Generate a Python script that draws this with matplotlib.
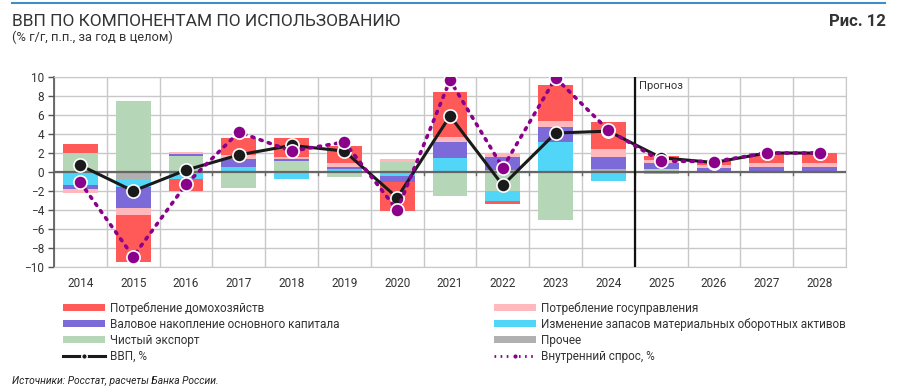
import matplotlib
matplotlib.use('Agg')
import matplotlib.pyplot as plt
from matplotlib.lines import Line2D
from matplotlib.patches import Patch
import numpy as np

plt.rcParams['font.family'] = ['Roboto', 'DejaVu Sans']

years = ['2014', '2015', '2016', '2017', '2018', '2019', '2020', '2021',
         '2022', '2023', '2024', '2025', '2026', '2027', '2028']

# contributions, p.p.
other = [0, -0.75, 0, 0, 0, 0, -0.25, 0, 0.2, 0, 0.3, 0.15, 0.05, 0.1, 0.1]
net_export = [1.95, 7.45, 1.7, -1.7, 1.2, -0.55, 1.05, -2.5, -1.95, -5.1, 0, 0.2, 0, 0, 0]
inventories = [-1.4, -0.85, -0.7, 0.5, -0.75, 0.35, -0.15, 1.45, -1.15, 3.15, -0.9, -0.25, 0, 0, 0]
investment = [-0.4, -2.2, 0.2, 0.85, 0.15, 0.15, -0.7, 1.7, 1.4, 1.55, 1.25, 0.6, 0.4, 0.4, 0.46]
government = [-0.45, -0.75, 0.25, 0.45, 0.2, 0.4, 0.3, 0.5, 0.35, 0.7, 0.9, 0.28, 0.25, 0.45, 0.35]
households = [1.05, -4.9, -1.35, 1.8, 2.0, 1.8, -3.0, 4.8, -0.3, 3.8, 2.8, 0.5, 0.45, 1.05, 1.1]

gdp = [0.7, -2.0, 0.2, 1.8, 2.8, 2.2, -2.7, 5.9, -1.4, 4.1, 4.3, 1.5, 1.0, 2.0, 2.0]
domestic_demand = [-1.1, -8.9, -1.3, 4.2, 2.2, 3.15, -4.0, 9.65, 0.45, 9.9, 4.4, 1.15, 1.1, 2.0, 2.0]

series = [
    (other, '#b0b0b0', 'Прочее'),
    (net_export, '#b5d6b7', 'Чистый экспорт'),
    (inventories, '#52d6f7', 'Изменение запасов материальных оборотных активов'),
    (investment, '#7b6ad8', 'Валовое накопление основного капитала'),
    (government, '#ffb8bc', 'Потребление госуправления'),
    (households, '#ff5a58', 'Потребление домохозяйств'),
]

fig = plt.figure(figsize=(9, 3.91), dpi=100)
ax = fig.add_axes([54 / 900, 1 - 267 / 391, (846 - 54) / 900, 190 / 391])

x = np.arange(len(years))
pos_base = np.zeros(len(years))
neg_base = np.zeros(len(years))
colors = {}
for vals, color, label in series:
    v = np.array(vals, dtype=float)
    bottom = np.where(v >= 0, pos_base, neg_base)
    ax.bar(x, v, bottom=bottom, width=0.66, color=color, zorder=2)
    colors[label] = color
    pos_base += np.where(v >= 0, v, 0)
    neg_base += np.where(v < 0, v, 0)

ax.plot(x, gdp, color='#1a1a1a', lw=2.2, marker='o', ms=9.5,
        mfc='#1a1a1a', mec='white', mew=1.2, zorder=4)
ax.plot(x, domestic_demand, color='#8b008b', lw=2.6, ls=(0, (0.6, 1.8)),
        dash_capstyle='round', marker='o', ms=9.5, mfc='#8b008b',
        mec='white', mew=1.2, zorder=5)

ax.set_xlim(-0.5, len(years) - 0.5)
ax.set_ylim(-10, 10)
ax.set_yticks(range(-10, 11, 2))
ax.set_xticks(x)
ax.set_xticklabels(years)
ax.set_xticks(np.arange(-0.5, len(years), 1), minor=True)
ax.tick_params(axis='x', which='major', length=0, pad=7, labelsize=8.5, colors='#333333')
ax.tick_params(axis='x', which='minor', length=0)
ax.tick_params(axis='y', length=4, width=1, color='#555555', labelsize=8.5,
               labelcolor='#333333', pad=3)
ax.grid(True, which='minor', axis='x', color='#c8c8c8', lw=1, zorder=0)
ax.grid(True, which='major', axis='y', color='#c8c8c8', lw=1, zorder=0)
for s in ['top', 'right', 'bottom']:
    ax.spines[s].set_color('#c8c8c8')
ax.spines['left'].set_color('#555555')
ax.spines['left'].set_linewidth(1.2)

ax.axhline(0, color='#666666', lw=1.6, zorder=3)
for b in np.arange(0.5, len(years) - 0.5, 1):
    ax.plot([b, b], [0, -0.35], color='#666666', lw=1, zorder=3)

ax.axvline(10.5, color='#111111', lw=1.6, zorder=3)
ax.text(10.58, 9.6, 'Прогноз', fontsize=8, color='#333333', va='top', ha='left')

# header
fig.add_artist(Line2D([12 / 900, 885 / 900], [1 - 3 / 391, 1 - 3 / 391],
                      color='#3d8fc6', lw=1.5))
fig.text(12 / 900, 1 - 21 / 391, 'ВВП ПО КОМПОНЕНТАМ ПО ИСПОЛЬЗОВАНИЮ',
         fontsize=12.5, color='#333333', va='center')
fig.text(12 / 900, 1 - 37 / 391, '(% г/г, п.п., за год в целом)',
         fontsize=9.3, color='#333333', va='center')
fig.text(886 / 900, 1 - 21 / 391, 'Рис. 12', fontsize=12, fontweight='bold',
         color='#333333', va='center', ha='right')

gdp_h = Line2D([], [], color='#1a1a1a', lw=2.2, marker='o', ms=4, mfc='#1a1a1a', mec='white')
dd_h = Line2D([], [], color='#8b008b', lw=2, ls=(0, (0.6, 1.6)), marker='o', ms=4,
              mfc='#8b008b', mec='white')

def patch(label):
    return Patch(facecolor=colors[label], label=label)

left_labels = ['Потребление домохозяйств', 'Валовое накопление основного капитала',
               'Чистый экспорт']
right_labels = ['Потребление госуправления',
                'Изменение запасов материальных оборотных активов', 'Прочее']
left_items = [patch(l) for l in left_labels] + [gdp_h]
right_items = [patch(l) for l in right_labels] + [dd_h]
left_labels = left_labels + ['ВВП, %']
right_labels = right_labels + ['Внутренний спрос, %']

for items, labels, xpos in [(left_items, left_labels, 58), (right_items, right_labels, 489)]:
    leg = fig.legend(items, labels, loc='upper left',
                     bbox_to_anchor=(xpos / 900, 1 - 297 / 391),
                     frameon=False, fontsize=8.5, handlelength=3.6,
                     handleheight=0.55, handletextpad=0.4, labelspacing=0.26,
                     borderaxespad=0)
    for t in leg.get_texts():
        t.set_color('#333333')

fig.text(12 / 900, 1 - 381 / 391, 'Источники: Росстат, расчеты Банка России.',
         fontsize=7.4, style='italic', color='#222222', va='center')

fig.savefig('out.png', dpi=100)
